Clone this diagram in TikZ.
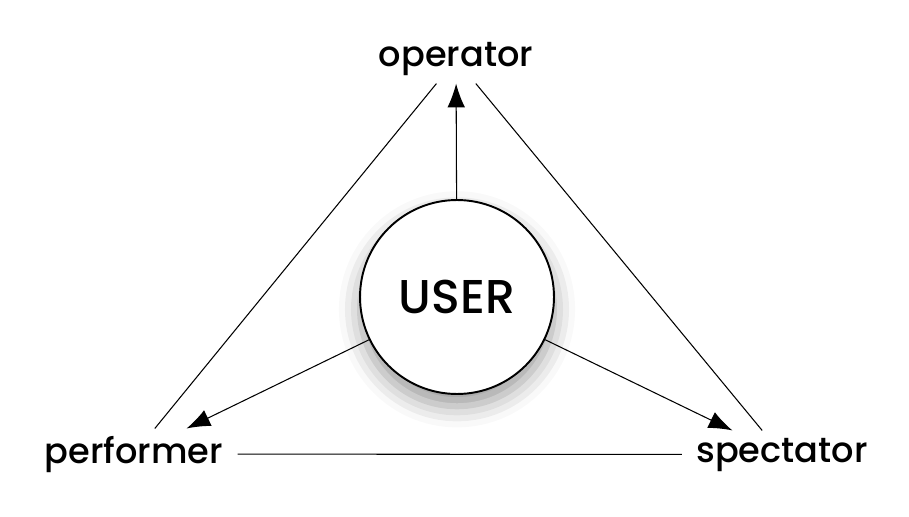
\documentclass[tikz,border=0pt]{standalone}
\usepackage{fontspec}
\setmainfont{Poppins}[UprightFont={* Medium}]
\usetikzlibrary{arrows.meta,shadows.blur}

\begin{document}
\begin{tikzpicture}[x=0.02cm,y=-0.02cm,
  role/.style={font=\fontsize{20}{22}\selectfont,inner xsep=8pt,inner ysep=4pt},
  user/.style={circle,draw=black,line width=1.1pt,fill=white,minimum size=3.88cm,
    font=\fontsize{27}{30}\selectfont,
    blur shadow={shadow xshift=0pt,shadow yshift=-7pt,shadow blur radius=12pt,shadow opacity=40}},
  arr/.style={-{Latex[length=13.5pt,width=10pt]},line width=0.6pt},
  side/.style={line width=0.6pt}]
\useasboundingbox (0,0) rectangle (909,517);
\draw (457,297) node[user] (U) {USER};
\draw (456,67) node[role,anchor=base] (Op) {operator}
      (134,463) node[role,anchor=base] (Pf) {performer}
      (782,462) node[role,anchor=base] (Sp) {spectator};
% triangle
\draw[side] (Pf)--(Op);
\draw[side] (Op)--(Sp);
\draw[side] (Pf)--(Sp);
% user roles
\draw[arr] (U)--(Op);
\draw[arr] (U)--(Pf);
\draw[arr] (U)--(Sp);
\end{tikzpicture}
\end{document}
